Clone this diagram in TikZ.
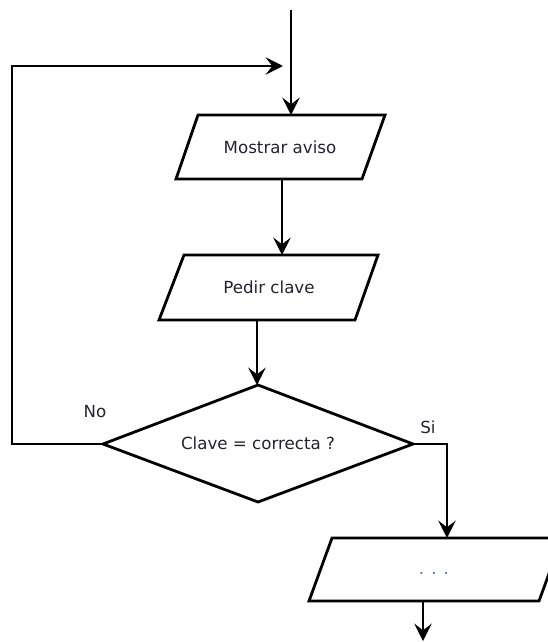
\documentclass[tikz,border=0pt]{standalone}
\usepackage{fontspec}
\setmainfont{DejaVu Sans}
\usetikzlibrary{arrows.meta}
\definecolor{txt}{HTML}{222233}
\definecolor{dots}{HTML}{3A78B8}
\tikzset{
  box/.style={draw=black,line width=2.1pt,line join=miter},
  conn/.style={draw=black,line width=2.1pt,-{Stealth[length=13pt,width=13pt,inset=5pt]}},
  lbl/.style={text=txt,font=\fontsize{12.5}{14}\selectfont,inner sep=0pt},
}
\begin{document}
\begin{tikzpicture}[x=0.75pt,y=-0.75pt]
\useasboundingbox (0,0) rectangle (547,642);
% shapes
\draw[box] (198,115) -- (385,115) -- (362,179) -- (176,179) -- cycle;
\draw[box] (184,255) -- (378,255) -- (355,320) -- (159,320) -- cycle;
\draw[box] (258,385) -- (413,444) -- (258,502) -- (103,444) -- cycle;
\draw[box] (332,538) -- (562,538) -- (539,601) -- (309,601) -- cycle;
% text nodes
\node[lbl] (m1) at (280,147) {Mostrar aviso};
\node[lbl] (m2) at (269,287) {Pedir clave};
\node[lbl] (dq) at (258,443) {Clave = correcta ?};
\node[lbl,text=dots] (m3) at (434,573) {. . .};
\node[lbl] (no) at (95,412) {No};
\node[lbl] (si) at (428,427) {Si};
% connector coordinates
\coordinate (start) at (291,10);
\coordinate (p1top) at (291,115);
\coordinate (p1bot) at (282,179);
\coordinate (p2top) at (282,255);
\coordinate (p2bot) at (257,320);
\coordinate (dtop) at (257,385);
\coordinate (dleft) at (103,444);
\coordinate (dright) at (413,444);
\coordinate (loopL) at (12,444);
\coordinate (loopT) at (12,66);
\coordinate (loopEnd) at (283,66);
\coordinate (siC) at (447,444);
\coordinate (p3top) at (447,538);
\coordinate (p3bot) at (423,601);
\coordinate (endp) at (423,641);
% connectors
\draw[conn] (start) -- (p1top);
\draw[conn] (p1bot) -- (p2top);
\draw[conn] (p2bot) -- (dtop);
\draw[conn] (dleft) -- (loopL) -- (loopT) -- (loopEnd);
\draw[conn] (dright) -- (siC) -- (p3top);
\draw[conn] (p3bot) -- (endp);
\end{tikzpicture}
\end{document}
